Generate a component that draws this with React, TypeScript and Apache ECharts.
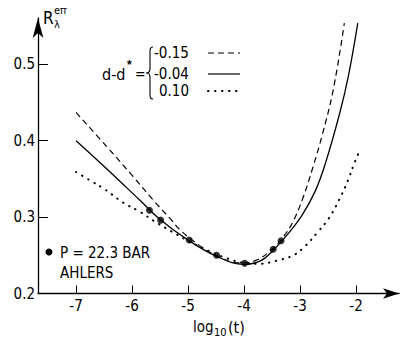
import React, { useEffect, useRef } from "react";
import * as echarts from "echarts";

const xTicks = [-7, -6, -5, -4, -3, -2];
const yLabels = [0.2, 0.3, 0.4, 0.5];
const yTicks = [0.3, 0.4, 0.5];

// d - d* = -0.15 (dashed)
const curveM015: [number, number][] = [
  [-7, 0.437], [-6.45, 0.392], [-5.98, 0.353], [-5.62, 0.322], [-5.32, 0.298],
  [-5.14, 0.283], [-4.8, 0.263], [-4.5, 0.25], [-4.1, 0.24], [-3.8, 0.243],
  [-3.5, 0.258], [-3.3, 0.274], [-3.12, 0.295], [-2.94, 0.327], [-2.76, 0.368],
  [-2.61, 0.406], [-2.41, 0.466], [-2.21, 0.554],
];
// d - d* = -0.04 (solid)
const curveM004: [number, number][] = [
  [-7, 0.4], [-6.45, 0.363], [-5.86, 0.322], [-5.5, 0.297], [-5.0, 0.27],
  [-4.5, 0.249], [-4.0, 0.238], [-3.7, 0.243], [-3.5, 0.255], [-3.24, 0.276],
  [-2.97, 0.302], [-2.73, 0.334], [-2.55, 0.37], [-2.3, 0.434], [-2.14, 0.484],
  [-1.97, 0.554],
];
// d - d* = 0.10 (dotted)
const curve010: [number, number][] = [
  [-7, 0.359], [-6.75, 0.348], [-6.48, 0.336], [-6.16, 0.319], [-5.86, 0.307],
  [-5.59, 0.294], [-5.29, 0.281], [-5.0, 0.269], [-4.64, 0.256], [-4.3, 0.246],
  [-4.0, 0.24], [-3.71, 0.239], [-3.42, 0.243], [-3.12, 0.25], [-2.91, 0.262],
  [-2.69, 0.28], [-2.49, 0.298], [-2.3, 0.323], [-2.14, 0.349], [-2.04, 0.369],
  [-1.96, 0.383],
];
// Ahlers, P = 22.3 bar
const ahlers: [number, number][] = [
  [-5.69, 0.309], [-5.49, 0.296], [-4.98, 0.27], [-4.49, 0.25], [-3.99, 0.2395],
  [-3.48, 0.258], [-3.34, 0.269],
];

const legendLabels = ["-0.15", "-0.04", "0.10"];

const FONT = "'DejaVu Sans Condensed', 'Liberation Sans Narrow', 'DejaVu Sans', sans-serif";

echarts.graphic.registerShape(
  "brace",
  echarts.graphic.extendPath(
    "M7 0 C4 0 4 2 4 6 L4 22 C4 25 2 26 0 26 C2 26 4 27 4 30 L4 46 C4 50 4 52 7 52",
    {}
  )
);

export default function App() {
  const ref = useRef<HTMLDivElement>(null);
  useEffect(() => {
    if (!ref.current) return;
    const chart = echarts.init(ref.current, undefined, { renderer: "svg" });
    const txt = (text: string, x: number, y: number, size = 15, extra: any = {}) => ({
      type: "text",
      x,
      y,
      z: 10,
      style: {
        text,
        font: `${extra.fontWeight || "normal"} ${size}px ${FONT}`,
        fill: "#000",
        verticalAlign: "middle",
        ...extra,
      },
    });
    const legendY = [53, 74, 91];
    const legendTypes: any[] = [[6, 4], "solid", [0.5, 6.5]];
    chart.setOption({
      animation: false,
      backgroundColor: "#fff",
      grid: { left: 38, right: 9, top: 18, bottom: 50.5 },
      xAxis: {
        type: "value",
        min: -7.68,
        max: -1.234,
        axisLine: {
          show: true,
          symbol: ["none", "arrow"],
          symbolSize: [8, 16],
          lineStyle: { color: "#000", width: 1.3 },
        },
        axisTick: {
          show: true,
          inside: true,
          length: 8,
          customValues: xTicks,
          lineStyle: { color: "#000", width: 1 },
        },
        axisLabel: {
          customValues: xTicks,
          margin: 5,
          color: "#000",
          fontSize: 15,
          fontFamily: FONT,
        },
        splitLine: { show: false },
      },
      yAxis: {
        type: "value",
        min: 0.2,
        max: 0.5606,
        axisLine: {
          show: true,
          symbol: ["none", "arrow"],
          symbolSize: [8, 20],
          lineStyle: { color: "#000", width: 1.3 },
        },
        axisTick: {
          show: true,
          inside: true,
          length: 10,
          customValues: yTicks,
          lineStyle: { color: "#000", width: 1 },
        },
        axisLabel: {
          customValues: yLabels,
          margin: 3,
          color: "#000",
          fontSize: 15,
          fontFamily: FONT,
          formatter: (v: number) => v.toFixed(1),
        },
        splitLine: { show: false },
      },
      series: [
        {
          type: "line",
          data: curveM015,
          smooth: 0.4,
          showSymbol: false,
          lineStyle: { color: "#000", width: 1.2, type: [6, 4] },
        },
        {
          type: "line",
          data: curveM004,
          smooth: 0.4,
          showSymbol: false,
          lineStyle: { color: "#000", width: 1.3, type: "solid" },
        },
        {
          type: "line",
          data: curve010,
          smooth: 0.4,
          showSymbol: false,
          lineStyle: { color: "#000", width: 2, type: [0.5, 6.5], cap: "round" },
        },
        {
          type: "scatter",
          data: ahlers,
          symbolSize: 7,
          itemStyle: { color: "#000" },
          z: 5,
        },
      ],
      graphic: [
        // y-axis label R_λ^eff
        txt("R", 43, 18, 17),
        txt("eff", 54, 10, 11),
        txt("λ", 54, 24, 11),
        // x-axis label log10(t)
        txt("log", 193, 327, 15),
        txt("10", 214, 332, 11),
        txt("(t)", 228, 327, 16),
        // legend
        txt("d-d", 102, 74, 16),
        txt("*", 127, 65, 14, { fontWeight: "bold" }),
        txt("=", 135, 74, 14),
        {
          type: "brace",
          x: 146,
          y: 47,
          style: { stroke: "#000", fill: "none", lineWidth: 1.1 },
        },
        ...legendLabels.map((l, i) =>
          txt(l, l.startsWith("-") ? 154 : 159, legendY[i], 15)
        ),
        ...legendLabels.map((_, i) => ({
          type: "line",
          shape: { x1: 208, y1: legendY[i], x2: 240, y2: legendY[i] },
          style: {
            stroke: "#000",
            lineWidth: i === 2 ? 2 : 1.2,
            lineDash: legendTypes[i] === "solid" ? null : legendTypes[i],
            lineCap: i === 2 ? "round" : "butt",
          },
        })),
        // data note
        { type: "circle", shape: { cx: 49, cy: 252, r: 3.5 }, style: { fill: "#000" } },
        txt("P = 22.3 BAR", 60, 253, 15),
        txt("AHLERS", 60, 273, 15),
      ],
    });
    return () => chart.dispose();
  }, []);
  return <div ref={ref} style={{ width: 408, height: 344, margin: -8 }} />;
}
